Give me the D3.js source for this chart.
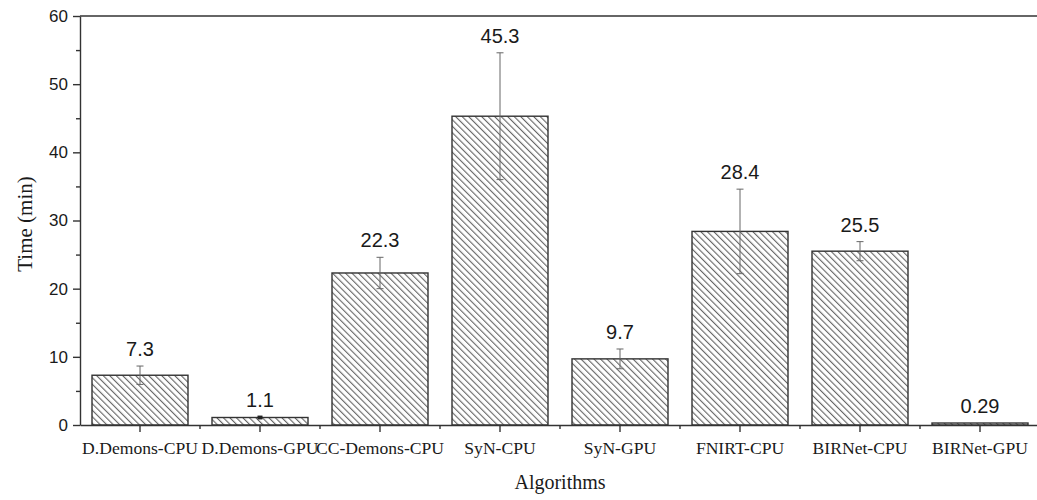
<!DOCTYPE html>
<html>
<head>
<meta charset="utf-8">
<script src="https://cdn.jsdelivr.net/npm/d3@7"></script>
<style>
  html, body { margin: 0; padding: 0; background: #fff; }
  svg { display: block; }
</style>
</head>
<body>
<svg id="chart" width="1037" height="500"></svg>
<script>
// Registration run time per algorithm (minutes), mean and standard deviation
const algorithms = ["D.Demons-CPU", "D.Demons-GPU", "CC-Demons-CPU", "SyN-CPU",
                    "SyN-GPU", "FNIRT-CPU", "BIRNet-CPU", "BIRNet-GPU"];
const meanTime = [7.3, 1.1, 22.3, 45.3, 9.7, 28.4, 25.5, 0.29];
const stdTime  = [1.35, 0.1, 2.3, 9.3, 1.45, 6.2, 1.4, 0];
const valueLabels = ["7.3", "1.1", "22.3", "45.3", "9.7", "28.4", "25.5", "0.29"];
const yTicks = [0, 10, 20, 30, 40, 50, 60];
const yMinorTicks = [5, 15, 25, 35, 45, 55];

const svg = d3.select("#chart");
const plotLeft = 80, plotRight = 1040, plotTop = 16, plotBottom = 425;
const axisColor = "#333";
const textColor = "#1a1a1a";

const x = d3.scaleBand().domain(algorithms).range([plotLeft, plotRight]).paddingInner(0.2).paddingOuter(0.1);
const xOuter = d3.scaleBand().domain(algorithms).range([plotLeft, plotRight]);
const y = d3.scaleLinear().domain([0, 60]).range([plotBottom, plotTop]);

// diagonal hatch fill
const defs = svg.append("defs");
const pat = defs.append("pattern")
  .attr("id", "hatch")
  .attr("patternUnits", "userSpaceOnUse")
  .attr("width", 4.6).attr("height", 10)
  .attr("patternTransform", "rotate(-45)");
pat.append("rect").attr("width", 4.6).attr("height", 10).attr("fill", "#fff");
pat.append("line").attr("x1", 0.6).attr("y1", 0).attr("x2", 0.6).attr("y2", 10)
  .attr("stroke", "#555").attr("stroke-width", 1);

// bars
svg.append("g").selectAll("rect")
  .data(algorithms)
  .join("rect")
  .attr("x", d => x(d))
  .attr("width", x.bandwidth())
  .attr("y", (d, i) => y(meanTime[i]))
  .attr("height", (d, i) => Math.max(1, y(0) - y(meanTime[i])))
  .attr("fill", "url(#hatch)")
  .attr("stroke", axisColor)
  .attr("stroke-width", 1.4);

// error bars
const eb = svg.append("g").attr("fill", "none");
algorithms.forEach((d, i) => {
  if (stdTime[i] <= 0) return;
  const cx = x(d) + x.bandwidth() / 2;
  const y1 = y(meanTime[i] + stdTime[i]);
  const y0 = y(meanTime[i] - stdTime[i]);
  const small = stdTime[i] < 0.3;
  const w = small ? 2.5 : 3.5;
  const sw = small ? 2.5 : 1;
  const col = small ? "#222" : "#666";
  [[cx, cx, y1, y0], [cx - w, cx + w, y1, y1], [cx - w, cx + w, y0, y0]].forEach(s => {
    eb.append("line").attr("x1", s[0]).attr("x2", s[1]).attr("y1", s[2]).attr("y2", s[3])
      .attr("stroke", col).attr("stroke-width", sw);
  });
});

// value labels
svg.append("g").selectAll("text")
  .data(algorithms)
  .join("text")
  .attr("x", d => x(d) + x.bandwidth() / 2)
  .attr("y", (d, i) => y(meanTime[i] + stdTime[i]) - 10)
  .attr("text-anchor", "middle")
  .attr("font-family", "'Liberation Sans', Arial, sans-serif")
  .attr("font-size", 20)
  .attr("fill", textColor)
  .text((d, i) => valueLabels[i]);

// frame: top and right edges
svg.append("line").attr("x1", plotLeft).attr("x2", plotRight).attr("y1", plotTop).attr("y2", plotTop)
  .attr("stroke", axisColor).attr("stroke-width", 1.4);
svg.append("line").attr("x1", plotRight).attr("x2", plotRight).attr("y1", plotTop).attr("y2", plotBottom)
  .attr("stroke", axisColor).attr("stroke-width", 1.4);

// y axis
const yAxis = svg.append("g").attr("transform", `translate(${plotLeft},0)`)
  .call(d3.axisLeft(y).tickValues(yTicks).tickSize(7).tickSizeOuter(0).tickPadding(5));
yAxis.selectAll(".tick line").attr("stroke", axisColor).attr("stroke-width", 1.4);
yAxis.select(".domain").attr("stroke", axisColor).attr("stroke-width", 1.4);
yAxis.selectAll("text").attr("font-family", "'Liberation Sans', Arial, sans-serif")
  .attr("font-size", 17).attr("fill", textColor);
svg.append("g").attr("transform", `translate(${plotLeft},0)`)
  .call(d3.axisLeft(y).tickValues(yMinorTicks).tickSize(4).tickFormat(""))
  .call(g => g.select(".domain").remove())
  .selectAll("line").attr("stroke", axisColor).attr("stroke-width", 1.4);

// x axis
const xAxis = svg.append("g").attr("transform", `translate(0,${plotBottom})`)
  .call(d3.axisBottom(xOuter).tickSize(7).tickSizeOuter(0).tickPadding(10));
xAxis.selectAll(".tick line").attr("stroke", axisColor).attr("stroke-width", 1.4);
xAxis.select(".domain").attr("stroke", axisColor).attr("stroke-width", 1.4);
xAxis.selectAll("text").attr("font-family", "'Liberation Serif', 'Times New Roman', serif")
  .attr("font-size", 17.6).attr("fill", textColor);
// minor ticks between categories
svg.append("g").selectAll("line")
  .data(algorithms.slice(1))
  .join("line")
  .attr("x1", d => xOuter(d)).attr("x2", d => xOuter(d))
  .attr("y1", plotBottom).attr("y2", plotBottom + 4)
  .attr("stroke", axisColor).attr("stroke-width", 1.4);

// axis titles
svg.append("text")
  .attr("x", (plotLeft + plotRight) / 2).attr("y", 489)
  .attr("text-anchor", "middle")
  .attr("font-family", "'Liberation Serif', 'Times New Roman', serif")
  .attr("font-size", 20).attr("fill", textColor)
  .text("Algorithms");
svg.append("text")
  .attr("transform", "translate(32,224) rotate(-90)")
  .attr("text-anchor", "middle")
  .attr("font-family", "'Liberation Serif', 'Times New Roman', serif")
  .attr("font-size", 21).attr("fill", textColor)
  .text("Time (min)");
</script>
</body>
</html>
